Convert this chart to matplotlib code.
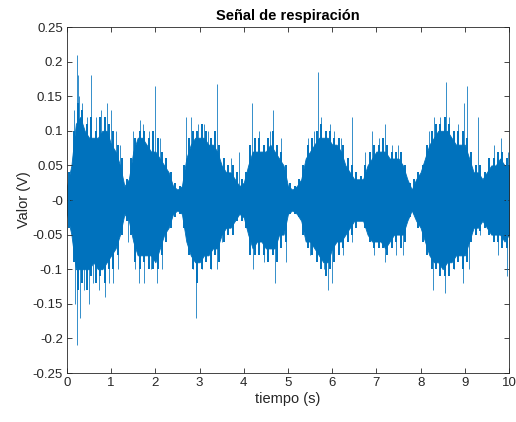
import numpy as np
import matplotlib
matplotlib.use("Agg")
import matplotlib.pyplot as plt
from matplotlib.ticker import FuncFormatter

# envelope of the dense part of the signal, every 0.1 s
t_env = [round(0.1 * i, 1) for i in range(101)]
core_hi = [0.02, 0.05, 0.11, 0.12, 0.10, 0.09, 0.09, 0.09, 0.10, 0.10,
           0.08, 0.07, 0.05, 0.02, 0.03, 0.07, 0.09, 0.09, 0.08, 0.07,
           0.07, 0.06, 0.05, 0.04, 0.02, 0.015, 0.02, 0.06, 0.08, 0.09,
           0.09, 0.09, 0.08, 0.08, 0.07, 0.05, 0.04, 0.04, 0.03, 0.02,
           0.025, 0.05, 0.07, 0.07, 0.07, 0.07, 0.08, 0.07, 0.06, 0.05,
           0.02, 0.015, 0.02, 0.03, 0.06, 0.07, 0.08, 0.09, 0.09, 0.09,
           0.08, 0.08, 0.07, 0.05, 0.04, 0.03, 0.03, 0.03, 0.05, 0.06,
           0.07, 0.07, 0.07, 0.06, 0.06, 0.06, 0.05, 0.03, 0.015, 0.03,
           0.04, 0.06, 0.08, 0.09, 0.10, 0.10, 0.10, 0.09, 0.08, 0.08,
           0.08, 0.06, 0.04, 0.04, 0.03, 0.04, 0.05, 0.05, 0.06, 0.05,
           0.05]
core_lo = [-0.02, -0.05, -0.10, -0.10, -0.10, -0.10, -0.09, -0.10, -0.10, -0.09,
           -0.08, -0.07, -0.05, -0.02, -0.03, -0.06, -0.08, -0.08, -0.08, -0.08,
           -0.09, -0.07, -0.05, -0.04, -0.02, -0.015, -0.02, -0.06, -0.08, -0.09,
           -0.09, -0.08, -0.08, -0.07, -0.07, -0.05, -0.04, -0.04, -0.03, -0.02,
           -0.025, -0.05, -0.07, -0.06, -0.06, -0.07, -0.07, -0.07, -0.05, -0.05,
           -0.02, -0.015, -0.02, -0.03, -0.06, -0.06, -0.07, -0.08, -0.09, -0.09,
           -0.07, -0.06, -0.06, -0.05, -0.04, -0.03, -0.03, -0.03, -0.05, -0.06,
           -0.06, -0.06, -0.07, -0.06, -0.05, -0.05, -0.05, -0.03, -0.015, -0.03,
           -0.04, -0.06, -0.08, -0.09, -0.09, -0.10, -0.09, -0.09, -0.08, -0.08,
           -0.08, -0.06, -0.04, -0.04, -0.03, -0.04, -0.05, -0.05, -0.05, -0.06,
           -0.05]

# ragged fringe just outside the envelope, at the half steps
fringe_t = [round(0.05 + 0.1 * i, 2) for i in range(100)]
fringe_hi = [0.04, 0.10, 0.14, 0.13, 0.11, 0.12, 0.10, 0.12, 0.12, 0.11,
             0.10, 0.08, 0.06, 0.03, 0.06, 0.09, 0.10, 0.10, 0.09, 0.10,
             0.09, 0.07, 0.06, 0.04, 0.025, 0.02, 0.05, 0.09, 0.10, 0.10,
             0.11, 0.10, 0.09, 0.10, 0.08, 0.06, 0.05, 0.05, 0.04, 0.03,
             0.04, 0.08, 0.09, 0.09, 0.08, 0.09, 0.10, 0.08, 0.07, 0.05,
             0.025, 0.02, 0.03, 0.05, 0.08, 0.09, 0.10, 0.11, 0.10, 0.10,
             0.09, 0.09, 0.08, 0.06, 0.05, 0.04, 0.035, 0.05, 0.07, 0.08,
             0.08, 0.09, 0.08, 0.07, 0.07, 0.07, 0.05, 0.025, 0.03, 0.04,
             0.05, 0.08, 0.10, 0.11, 0.11, 0.12, 0.11, 0.10, 0.10, 0.10,
             0.09, 0.07, 0.05, 0.05, 0.04, 0.06, 0.06, 0.07, 0.07, 0.06]
fringe_lo = [-0.04, -0.09, -0.13, -0.12, -0.13, -0.11, -0.12, -0.11, -0.12, -0.10,
             -0.10, -0.08, -0.05, -0.03, -0.05, -0.09, -0.10, -0.09, -0.10, -0.10,
             -0.10, -0.08, -0.06, -0.04, -0.025, -0.02, -0.04, -0.08, -0.10, -0.12,
             -0.10, -0.09, -0.10, -0.08, -0.09, -0.06, -0.05, -0.05, -0.03, -0.03,
             -0.04, -0.08, -0.08, -0.08, -0.08, -0.09, -0.08, -0.09, -0.07, -0.06,
             -0.02, -0.02, -0.025, -0.05, -0.07, -0.08, -0.09, -0.10, -0.11, -0.10,
             -0.09, -0.08, -0.07, -0.06, -0.05, -0.04, -0.03, -0.04, -0.06, -0.07,
             -0.07, -0.07, -0.08, -0.07, -0.06, -0.07, -0.06, -0.025, -0.02, -0.04,
             -0.06, -0.08, -0.10, -0.10, -0.11, -0.11, -0.11, -0.10, -0.09, -0.10,
             -0.09, -0.06, -0.05, -0.045, -0.04, -0.05, -0.06, -0.06, -0.07, -0.07]

# isolated peaks sticking out of the envelope
spike_t = [0.05, 0.08, 0.15, 0.18, 0.22, 0.22, 0.25, 0.27, 0.30, 0.33,
           0.38, 0.45, 0.50, 0.55, 0.60, 0.65, 0.72, 0.78, 0.85, 0.90,
           0.95, 1.00, 1.05, 1.10, 1.15, 1.20, 1.38, 1.50, 1.55, 1.65,
           1.62, 1.72, 1.75, 1.85, 1.90, 2.00, 2.03, 2.10, 2.15, 2.25,
           2.70, 2.80, 2.85, 2.93, 2.97, 3.05, 3.10, 3.20, 3.25, 3.39,
           3.40, 3.50, 3.70, 3.90, 4.19, 4.20, 4.35, 4.45, 4.60, 4.67,
           4.70, 4.85, 4.95, 5.45, 5.50, 5.60, 5.68, 5.75, 5.82, 5.90,
           5.95, 6.00, 6.05, 6.20, 6.25, 6.44, 6.45, 6.75, 6.90, 6.95,
           7.05, 7.19, 7.20, 7.35, 7.45, 7.50, 7.60, 8.20, 8.28, 8.30,
           8.45, 8.55, 8.58, 8.65, 8.75, 8.85, 8.95, 8.99, 9.05, 9.10,
           9.31, 9.35, 9.65, 9.75, 9.82, 9.95, 9.98, 10.0]
spike_v = [0.04, -0.04, 0.13, -0.15, 0.21, -0.21, 0.18, 0.15, -0.17, 0.14,
           -0.13, 0.12, -0.15, 0.18, -0.12, 0.12, -0.13, 0.13, -0.14, 0.14,
           -0.12, 0.13, -0.12, 0.10, -0.10, 0.08, -0.06, 0.10, -0.10, 0.115,
           -0.12, 0.11, -0.12, 0.10, -0.10, 0.165, -0.12, 0.09, -0.10, 0.06,
           0.12, 0.12, -0.10, -0.17, 0.11, -0.10, 0.11, 0.10, -0.10, 0.167,
           -0.10, -0.06, 0.06, 0.07, 0.14, -0.10, 0.10, -0.09, 0.10, 0.13,
           -0.12, 0.09, -0.09, 0.09, -0.08, 0.10, 0.185, 0.12, -0.10, -0.13,
           0.11, -0.12, 0.10, 0.09, -0.08, 0.12, -0.06, 0.07, 0.10, -0.08,
           0.09, 0.11, -0.09, 0.08, -0.08, 0.08, -0.08, 0.10, -0.13, 0.12,
           0.12, -0.135, 0.17, 0.12, -0.10, 0.11, -0.12, 0.14, 0.165, -0.10,
           0.12, -0.05, 0.08, -0.08, 0.09, -0.11, 0.07, -0.135]

blue = '#0072BD'
dark = '#262626'

plt.rcParams['font.family'] = ['Liberation Sans', 'DejaVu Sans']

fig = plt.figure(figsize=(5.16, 4.22), dpi=100)
ax = fig.add_axes([0.1298, 0.1161, 0.8566, 0.8199])

ax.fill_between(t_env, core_lo, core_hi, color=blue, lw=0.6, edgecolor=blue)
ax.vlines(fringe_t, fringe_lo, fringe_hi, color=blue, lw=1.4)
ax.vlines(spike_t, 0, spike_v, color=blue, lw=0.7, alpha=0.8)

ax.set_xlim(0, 10)
ax.set_ylim(-0.25, 0.25)
ax.set_xticks(np.arange(0, 11, 1))
ax.set_yticks(np.arange(-0.25, 0.2501, 0.05))
ax.yaxis.set_major_formatter(FuncFormatter(lambda v, p: ('%g' % round(v, 2))))

ax.tick_params(direction='in', length=3.5, width=0.6, colors=dark,
               labelsize=9.5, top=True, right=True, pad=3)
for sp in ax.spines.values():
    sp.set_color(dark)
    sp.set_linewidth(0.6)

ax.set_title('Señal de respiración', fontsize=10.5, fontweight='bold', pad=5)
ax.set_xlabel('tiempo (s)', fontsize=10.5, color=dark, labelpad=2)
ax.set_ylabel('Valor (V)', fontsize=10.5, color=dark, labelpad=1)

fig.savefig('out.png', dpi=100)
